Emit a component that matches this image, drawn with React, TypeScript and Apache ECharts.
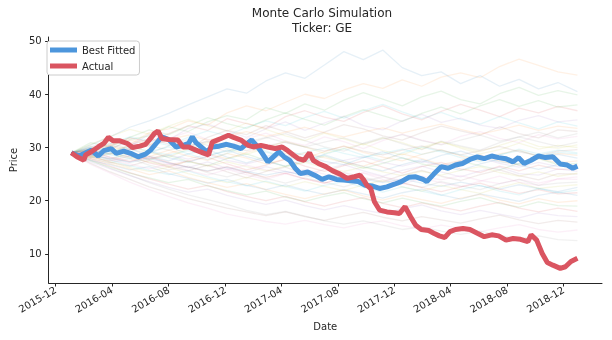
import React, { useEffect, useRef } from "react";
import * as echarts from "echarts";

const START = "2016-01-04";
const xTickLabels = ["2015-12", "2016-04", "2016-08", "2016-12", "2017-04", "2017-08", "2017-12", "2018-04", "2018-08", "2018-12"];
const yTickValues = [10, 20, 30, 40, 50];

const actualDays = [0, 12, 27, 31, 43, 58, 70, 80, 90, 105, 121, 132, 148, 160, 171, 179, 187, 195, 210, 230, 241, 253, 269, 284, 296, 304, 323, 339, 350, 366, 381, 393, 409, 424, 440, 455, 467, 479, 490, 502, 514, 522, 533, 549, 564, 580, 595, 611, 623, 630, 638, 646, 654, 665, 681, 697, 708, 720, 732, 743, 755, 771, 782, 794, 806, 817, 829, 845, 860, 876, 891, 907, 922, 938, 953, 969, 985, 992, 1004, 1016, 1027, 1039, 1055, 1066, 1078, 1092];
const actualPrices = [29.0, 28.25, 27.6, 28.6, 29.2, 30.1, 30.75, 31.9, 31.25, 31.25, 30.75, 30.0, 30.25, 30.6, 31.7, 32.6, 33.1, 31.7, 31.5, 31.4, 30.1, 30.1, 29.5, 29.0, 28.6, 31.0, 31.7, 32.3, 31.9, 31.4, 30.4, 30.1, 30.4, 30.1, 29.8, 30.1, 29.4, 28.6, 27.9, 27.6, 29.0, 27.6, 27.0, 26.4, 25.6, 25.0, 24.2, 24.5, 24.8, 24.0, 22.9, 22.3, 19.8, 18.25, 17.9, 17.75, 17.6, 18.9, 17.0, 15.4, 14.6, 14.4, 13.9, 13.4, 13.1, 14.2, 14.6, 14.8, 14.6, 13.9, 13.25, 13.6, 13.4, 12.6, 12.9, 12.75, 12.3, 13.6, 12.6, 10.1, 8.4, 7.9, 7.3, 7.6, 8.6, 9.2];

const fittedDays = [0, 16, 31, 43, 58, 70, 86, 97, 113, 128, 144, 160, 171, 183, 195, 210, 226, 241, 253, 261, 269, 280, 292, 304, 319, 335, 350, 366, 377, 389, 401, 412, 424, 436, 448, 459, 471, 483, 494, 510, 525, 541, 556, 572, 588, 603, 619, 634, 650, 665, 681, 697, 712, 728, 743, 759, 767, 782, 798, 813, 829, 844, 860, 876, 891, 907, 922, 938, 953, 965, 977, 992, 1008, 1023, 1039, 1055, 1070, 1082, 1092];
const fittedPrices = [29.0, 28.4, 29.0, 29.5, 28.4, 29.4, 29.8, 28.9, 29.3, 28.9, 28.25, 28.75, 29.5, 30.75, 32.0, 31.5, 30.1, 30.4, 30.75, 32.0, 30.9, 30.1, 29.2, 30.1, 30.25, 30.6, 30.25, 29.8, 30.6, 31.4, 30.25, 28.9, 27.3, 28.25, 29.2, 28.25, 27.6, 26.1, 25.1, 25.4, 24.8, 24.0, 24.5, 24.0, 23.9, 23.75, 23.6, 22.9, 22.75, 22.3, 22.6, 23.1, 23.6, 24.4, 24.5, 24.0, 23.6, 25.0, 26.4, 26.1, 26.7, 27.0, 27.75, 28.25, 27.9, 28.4, 28.1, 27.9, 27.3, 28.1, 27.0, 27.6, 28.4, 28.1, 28.25, 26.9, 26.7, 26.1, 26.5];

const simDays = [0, 42, 84, 126, 168, 210, 252, 294, 336, 378, 420, 462, 504, 546, 588, 630, 672, 714, 756, 798, 840, 882, 924, 966, 1008, 1050, 1092];
const simPaths = [
  [29, 30.5, 32, 33.8, 35, 36.4, 38, 39.5, 41, 40.2, 42.5, 44, 43, 45.5, 48, 46.5, 48.3, 45, 43.5, 44.2, 42, 43.5, 41.5, 42.8, 41, 42.2, 40.5],
  [29, 29.8, 31.2, 30.5, 32.8, 33.5, 35, 34.2, 36.5, 37.8, 36.9, 38.5, 40, 39.2, 40.8, 42, 41.1, 42.7, 41.5, 43.2, 44, 43.1, 45.2, 46.6, 45.4, 44.2, 43.6],
  [29, 30.2, 29.6, 31.5, 32.2, 33.9, 33, 34.8, 36, 35.2, 37.5, 36.4, 38.2, 37, 38.9, 40.3, 39.1, 37.8, 39.5, 40.6, 39, 38.2, 40.1, 41.3, 39.8, 40.7, 39.9],
  [29, 28.5, 30.4, 31.8, 31, 32.6, 34.1, 33.2, 35.4, 34.5, 33.6, 35.8, 36.9, 35.7, 34.9, 36.6, 37.8, 36.3, 35.2, 36.8, 38.1, 37, 35.8, 37.4, 36.5, 37.7, 36.9],
  [29, 30.1, 31.3, 30.2, 32.5, 31.4, 33.6, 34.4, 33.1, 31.9, 33.5, 34.8, 33.2, 34.6, 35.9, 34.1, 33.3, 35, 36.2, 34.7, 35.5, 34.2, 33.6, 35.1, 36, 34.8, 35.2],
  [29, 29.6, 28.8, 30.5, 31.6, 30.7, 29.8, 31.9, 33.2, 32.4, 34.1, 33, 31.8, 32.9, 34.3, 33.5, 32.2, 31.4, 32.8, 34, 33.1, 32.3, 33.9, 32.6, 31.8, 33.3, 33],
  [29, 28.4, 29.9, 31, 30.1, 31.7, 32.9, 31.5, 30.3, 31.6, 32.7, 31.2, 30.4, 32, 31.1, 29.8, 31.3, 32.5, 31.4, 30.6, 32.1, 33, 31.7, 30.9, 32.4, 31.6, 32.1],
  [29, 29.9, 30.8, 29.7, 28.9, 30.3, 31.5, 30.4, 29.2, 30.6, 31.8, 32.6, 31.3, 30.1, 29.3, 30.8, 31.9, 30.7, 29.6, 31.2, 30.3, 29.5, 30.9, 32, 31.1, 30.2, 31],
  [29, 28.3, 29.4, 30.3, 29.1, 28.2, 29.7, 30.9, 29.8, 28.7, 29.9, 31.2, 30.1, 28.9, 29.8, 30.7, 29.4, 28.6, 30, 31.1, 29.9, 28.8, 29.6, 30.8, 29.7, 30.4, 30],
  [29, 29.7, 28.6, 27.9, 29.2, 30.1, 28.8, 27.7, 28.9, 30.2, 29.3, 28.1, 27.4, 28.7, 29.8, 28.5, 27.6, 29, 30.1, 29.2, 28.1, 27.3, 28.6, 29.7, 28.8, 29.5, 29],
  [29, 28.1, 28.9, 29.8, 28.4, 27.5, 28.8, 29.6, 28.2, 27.1, 28.3, 29.4, 28.5, 27.4, 26.8, 28.1, 29.2, 28, 27.2, 28.5, 29.3, 28.2, 27.3, 26.9, 28.1, 28.7, 28],
  [29, 29.4, 30.3, 29.1, 28.3, 29.5, 28.4, 27.6, 28.9, 28, 26.9, 27.8, 29, 28.1, 27.2, 26.5, 27.7, 28.8, 27.9, 26.8, 27.6, 28.6, 27.5, 26.7, 27.9, 27.1, 27.5],
  [29, 28.6, 27.8, 28.9, 27.7, 28.5, 27.4, 26.6, 27.9, 28.8, 27.6, 26.4, 27.3, 28.4, 27.2, 26.1, 27, 28.1, 26.9, 26.2, 27.4, 26.6, 25.8, 27, 27.9, 26.8, 27],
  [29, 28.2, 27.5, 28.4, 27.1, 26.3, 27.5, 28.2, 26.9, 25.8, 26.7, 27.8, 26.5, 25.5, 26.6, 27.5, 26.3, 25.2, 26.4, 27.2, 26, 25.3, 26.5, 25.6, 26.7, 25.9, 26],
  [29, 29.2, 28.1, 27.3, 28.2, 27, 26.2, 27.3, 26.1, 25.3, 26.4, 25.5, 24.7, 25.9, 26.8, 25.6, 24.6, 25.7, 26.5, 25.4, 24.5, 25.6, 26.3, 25.1, 24.8, 26, 25.5],
  [29, 28.4, 27.2, 26.5, 27.6, 26.4, 25.6, 26.7, 25.4, 24.3, 25.5, 26.3, 25, 24.2, 25.3, 24.4, 23.6, 24.8, 25.7, 24.6, 23.8, 24.9, 25.8, 24.7, 23.9, 25.1, 25],
  [29, 28.9, 27.7, 26.9, 26, 26.9, 25.7, 24.8, 25.9, 24.9, 24, 25.1, 24.1, 23.3, 24.5, 25.2, 24, 23.1, 24.2, 23.4, 22.6, 23.7, 24.6, 23.5, 22.9, 24.1, 24],
  [29, 27.9, 27.1, 27.9, 26.7, 25.8, 26.5, 25.3, 24.5, 25.4, 24.2, 23.3, 24.3, 23.5, 22.6, 23.7, 24.5, 23.4, 22.5, 23.6, 22.8, 22.1, 23.2, 24, 22.9, 23.3, 23.5],
  [29, 28.3, 27.3, 26.2, 25.5, 26.3, 25.1, 24.2, 23.4, 24.4, 23.5, 22.6, 23.6, 22.7, 21.9, 23, 23.8, 22.6, 21.8, 22.9, 22.1, 21.4, 22.5, 23.4, 22.3, 22.7, 23],
  [29, 28.6, 27.6, 26.6, 25.7, 24.9, 25.6, 24.5, 23.6, 22.8, 23.7, 22.7, 21.8, 22.9, 23.6, 22.5, 21.6, 22.6, 21.8, 21, 22.1, 22.9, 21.8, 21.1, 22.3, 21.5, 22],
  [29, 27.6, 26.8, 25.8, 26.4, 25.1, 24.2, 23.3, 24, 22.9, 22.1, 23, 22, 21.2, 22.1, 21.3, 20.5, 21.5, 22.2, 21.1, 20.3, 21.3, 20.6, 19.9, 21, 21.6, 21],
  [29, 28, 26.9, 26, 24.9, 25.6, 24.4, 23.4, 22.5, 23.2, 22.1, 21.2, 20.4, 21.3, 22, 20.9, 20.1, 21, 20.2, 19.5, 20.5, 21.2, 20.1, 19.4, 20.4, 19.7, 20],
  [29, 27.5, 26.3, 25.2, 24.3, 23.4, 24, 22.8, 21.9, 21.1, 21.8, 20.7, 19.9, 20.8, 21.5, 20.4, 19.6, 20.5, 19.7, 19, 19.9, 20.6, 19.5, 18.8, 19.8, 19.1, 19],
  [29, 27.8, 26.5, 25.3, 24.1, 23.1, 22.2, 22.9, 21.7, 20.8, 20, 20.8, 19.8, 19, 19.9, 20.6, 19.5, 18.7, 19.6, 18.8, 18.1, 19, 19.7, 18.6, 17.9, 18.6, 18],
  [29, 27.3, 26, 24.7, 23.6, 22.5, 21.6, 22.2, 21, 20.1, 19.3, 20.1, 19.1, 18.3, 19.1, 18.3, 17.6, 18.5, 19.2, 18.1, 17.4, 18.2, 17.5, 16.8, 17.7, 17.2, 17],
  [29, 27, 25.4, 24, 22.6, 21.5, 20.4, 19.5, 18.6, 17.9, 17.2, 17.9, 17, 16.3, 17.1, 17.8, 16.9, 16.2, 17, 16.4, 15.8, 16.6, 17.3, 16.4, 15.7, 16.3, 16],
  [29, 26.8, 25.2, 23.5, 22.1, 20.8, 19.6, 18.6, 17.5, 16.8, 16.1, 15.6, 16.3, 15.5, 14.9, 15.7, 16.2, 15.3, 14.7, 15.4, 14.8, 14.2, 14.9, 15.5, 14.6, 14.1, 14.5],
  [29, 27.6, 26.1, 24.8, 23.4, 22.2, 21.1, 20.2, 19.3, 18.2, 17.4, 18, 17.1, 16.2, 15.6, 16.2, 15.4, 14.6, 15.1, 14.3, 13.7, 14.3, 13.5, 12.9, 13.4, 12.7, 12.5],
  [29, 30.6, 32.1, 33.4, 32.5, 34, 35.3, 34.1, 33.1, 34.6, 33.4, 32.2, 31.3, 32.7, 31.6, 30.5, 31.8, 30.9, 29.7, 31, 30.1, 29.2, 30.4, 31.5, 30.2, 29.9, 30.5],
  [29, 29.5, 30.7, 32, 31.2, 30.4, 31.9, 33.1, 32.2, 33.8, 35, 34.1, 35.6, 36.8, 35.5, 36.9, 38.1, 36.7, 35.4, 36.6, 35.3, 34.4, 35.8, 34.6, 33.5, 34.8, 34],
  [29, 30, 29.1, 28.2, 29.3, 28.1, 27.2, 28.4, 29.5, 28.3, 27.4, 26.5, 27.7, 28.6, 27.5, 26.4, 25.6, 26.8, 27.7, 26.6, 25.7, 26.9, 27.8, 26.7, 25.9, 26.8, 26.5],
  [29, 28.7, 29.6, 28.5, 27.8, 28.9, 29.9, 28.8, 27.9, 29.1, 30, 28.9, 28, 29.2, 30.3, 29.1, 28.2, 27.5, 28.7, 29.6, 28.4, 27.6, 28.8, 29.5, 28.3, 28.9, 28.5],
  [29, 30.9, 30.1, 31.9, 33.3, 32.4, 34, 35.6, 34.5, 33.6, 35.2, 36.5, 35.3, 34.2, 35.8, 37.1, 36, 34.9, 36.4, 37.6, 36.3, 37.8, 39, 37.7, 38.8, 37.6, 38],
  [29, 29.3, 28.2, 27.4, 28.3, 27.2, 26.3, 25.5, 26.4, 25.3, 24.4, 25.2, 24.1, 23.3, 24.2, 23.2, 22.4, 23.3, 22.5, 21.7, 22.6, 23.3, 22.2, 21.4, 22.1, 21.3, 21.5],
  [29, 28.8, 29.5, 28.7, 27.9, 28.6, 27.8, 28.7, 27.6, 26.9, 27.8, 28.5, 27.4, 26.7, 27.6, 28.3, 27.2, 26.5, 27.4, 26.6, 27.5, 28.1, 27, 26.3, 27.2, 26.4, 26.8],
  [29, 29.6, 30.4, 29.6, 30.5, 31.3, 30.3, 31.1, 30.2, 29.4, 30.3, 31, 30.1, 29.3, 30.2, 29.3, 28.6, 29.5, 30.3, 29.4, 28.6, 29.4, 30.2, 29.2, 28.5, 29.3, 29.6],
  [29, 28.5, 27.9, 28.6, 27.6, 26.8, 27.5, 26.6, 25.9, 26.7, 25.8, 25.1, 25.9, 25, 24.4, 25.3, 24.5, 23.8, 24.6, 23.9, 24.7, 23.8, 23.2, 24, 23.3, 24.1, 24.5],
  [29, 29.4, 28.7, 29.6, 30.4, 29.5, 30.3, 31.2, 30.2, 31, 31.9, 30.9, 30.1, 31, 31.8, 30.7, 31.6, 32.4, 31.3, 30.5, 31.4, 32.3, 31.2, 32, 32.9, 31.8, 32.6],
  [29, 28.2, 28.9, 28.1, 27.3, 26.6, 27.4, 26.5, 27.3, 26.4, 25.6, 26.5, 27.2, 26.2, 25.5, 26.3, 25.4, 24.7, 25.5, 24.8, 25.7, 26.4, 25.3, 24.6, 25.4, 24.6, 25.2],
  [29, 29.9, 29.2, 30.1, 29.3, 28.6, 29.4, 28.5, 29.3, 30.1, 29.1, 28.3, 29.1, 29.9, 28.9, 28.1, 28.9, 29.7, 28.7, 29.5, 28.6, 27.8, 28.6, 29.4, 28.4, 29.1, 28.8],
  [29, 28.7, 27.9, 27.2, 27.9, 27.1, 26.3, 25.6, 26.3, 25.5, 24.8, 25.5, 24.7, 24, 24.8, 24.1, 23.4, 24.1, 23.3, 22.7, 23.5, 22.8, 22.2, 23, 22.3, 21.7, 22.5],
  [29, 29.7, 30.6, 31.4, 30.6, 31.5, 32.3, 31.4, 32.2, 33, 32.1, 32.9, 33.8, 32.8, 32, 32.9, 33.7, 32.7, 33.6, 34.4, 33.4, 32.5, 33.3, 34.2, 33.2, 34, 33.6],
];

const simColors = ["#1f77b4", "#ff7f0e", "#2ca02c", "#d62728", "#9467bd", "#8c564b", "#e377c2", "#7f7f7f", "#bcbd22", "#17becf"];
const DAY = 86400000;
const startTs = Date.parse(START + "T00:00:00Z");
const toTs = (d: number) => startTs + d * DAY;
const monthTs = (s: string) => Date.parse(s + "-01T00:00:00Z");

const FONT = "DejaVu Sans";
const INK = "#262626";

export default function App() {
  const ref = useRef<HTMLDivElement>(null);
  useEffect(() => {
    if (!ref.current) return;
    const chart = echarts.init(ref.current, null, { renderer: "svg" });
    const tickTs = xTickLabels.map(monthTs);
    const simSeries = simPaths.map((p, i) => ({
      type: "line",
      name: "sim" + i,
      data: p.map((v, j) => [toTs(simDays[j]), v]),
      showSymbol: false,
      silent: true,
      lineStyle: { width: 1.3, color: simColors[i % simColors.length], opacity: 0.11 },
      z: 1,
    }));
    chart.setOption({
      animation: false,
      textStyle: { fontFamily: FONT },
      title: {
        text: "Monte Carlo Simulation\nTicker: GE",
        left: 322,
        top: 5,
        padding: 0,
        textAlign: "center",
        textStyle: { fontSize: 12, lineHeight: 15, fontWeight: "normal", color: INK, fontFamily: FONT },
      },
      legend: {
        data: ["Best Fitted", "Actual"],
        orient: "vertical",
        left: 47,
        top: 41,
        padding: [3, 4, 3, 3],
        itemGap: 4,
        itemWidth: 27,
        itemHeight: 5,
        icon: "rect",
        backgroundColor: "#ffffff",
        borderColor: "#cccccc",
        borderWidth: 1,
        borderRadius: 3,
        textStyle: { fontSize: 10, lineHeight: 12, color: INK, fontFamily: FONT },
      },
      grid: { left: 42, right: 10, top: 37, bottom: 57, containLabel: false },
      xAxis: {
        type: "value",
        min: monthTs("2015-12") - 15 * DAY,
        max: monthTs("2018-12") + 83 * DAY,
        name: "Date",
        nameLocation: "middle",
        nameGap: 38,
        nameTextStyle: { fontSize: 10, color: INK, fontFamily: FONT },
        axisLine: { show: true, lineStyle: { color: INK, width: 1 } },
        axisTick: { show: true, length: 3.5, lineStyle: { color: INK }, customValues: tickTs },
        axisLabel: {
          customValues: tickTs,
          rotate: 30,
          fontSize: 10,
          color: INK,
          margin: 6,
          fontFamily: FONT,
          formatter: (v: number) => {
            const d = new Date(v);
            const m = d.getUTCMonth() + 1;
            return d.getUTCFullYear() + "-" + (m < 10 ? "0" + m : "" + m);
          },
        },
        splitLine: { show: false },
      },
      yAxis: {
        type: "value",
        min: 4.55,
        max: 50.75,
        name: "Price",
        nameLocation: "middle",
        nameGap: 23,
        nameTextStyle: { fontSize: 10, color: INK, fontFamily: FONT },
        axisLine: { show: true, lineStyle: { color: INK, width: 1 } },
        axisTick: { show: true, length: 3.5, lineStyle: { color: INK }, customValues: yTickValues },
        axisLabel: { customValues: yTickValues, fontSize: 10, color: INK, margin: 7, fontFamily: FONT },
        splitLine: { show: false },
      },
      series: [
        ...simSeries,
        {
          type: "line",
          name: "Best Fitted",
          data: fittedDays.map((d, i) => [toTs(d), fittedPrices[i]]),
          showSymbol: false,
          color: "#4d96dc",
          lineStyle: { width: 5, color: "#4d96dc" },
          z: 3,
        },
        {
          type: "line",
          name: "Actual",
          data: actualDays.map((d, i) => [toTs(d), actualPrices[i]]),
          showSymbol: false,
          color: "#da5561",
          lineStyle: { width: 5, color: "#da5561" },
          z: 4,
        },
      ],
    });
    return () => chart.dispose();
  }, []);
  return <div ref={ref} style={{ position: "fixed", left: 0, top: 0, width: 612, height: 340 }} />;
}
